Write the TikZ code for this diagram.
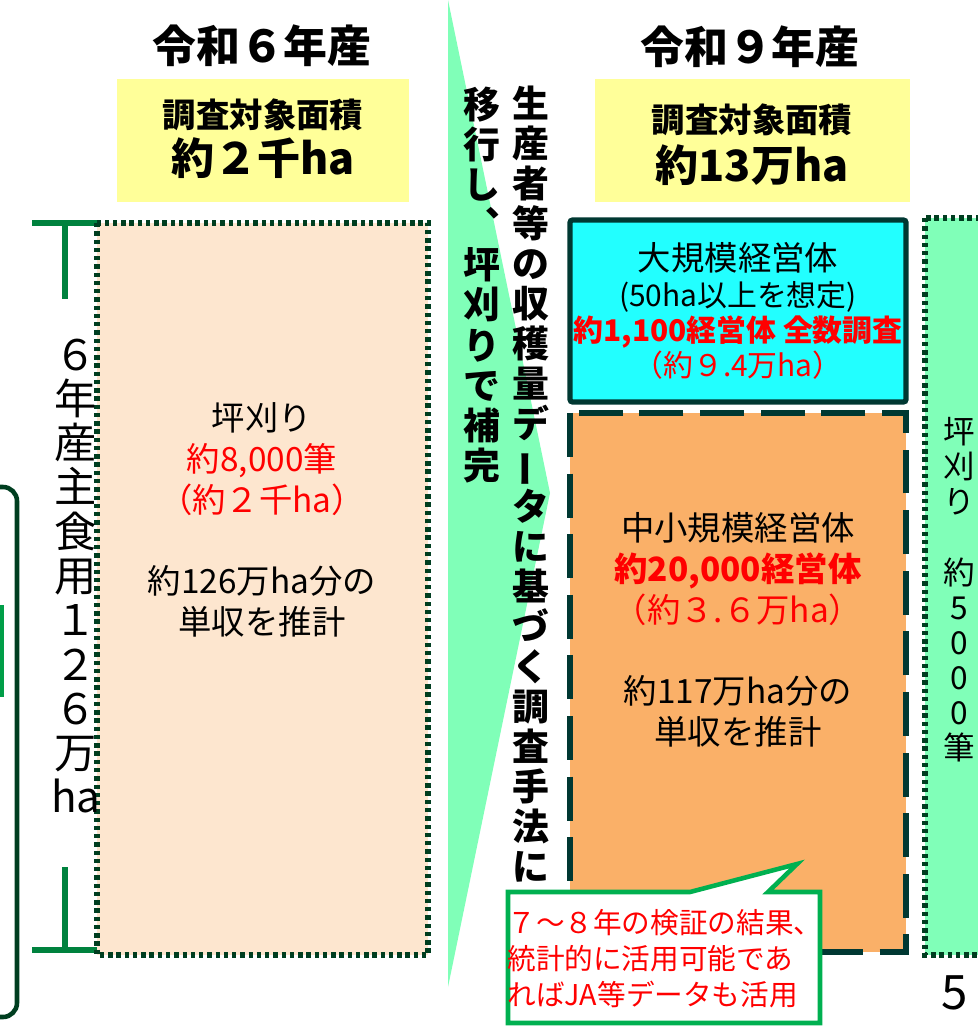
\documentclass[tikz,border=0pt]{standalone}
\usepackage{fontspec}
\setmainfont{Noto Sans CJK JP}
\usetikzlibrary{positioning}

\definecolor{paleyellow}{RGB}{255,255,153}
\definecolor{peach}{RGB}{253,230,207}
\definecolor{lightorange}{RGB}{250,176,104}
\definecolor{brightcyan}{RGB}{34,255,255}
\definecolor{mint}{RGB}{128,255,184}
\definecolor{darkgreen}{RGB}{0,62,32}
\definecolor{darkteal}{RGB}{0,56,50}
\definecolor{bargreen}{RGB}{0,130,62}
\definecolor{callgreen}{RGB}{0,176,80}

\tikzset{
  dotbox/.style={draw=darkgreen, line width=3pt, dash pattern=on 2.5pt off 2.2pt},
  dashbox/.style={draw=darkteal, line width=3pt, dash pattern=on 25pt off 9.5pt},
  title/.style={font=\fontsize{25}{28}\selectfont\bfseries},
  areahead/.style={font=\fontsize{19}{22}\selectfont\bfseries},
  areaval/.style={font=\fontsize{24.5}{27}\selectfont\bfseries},
  body/.style={align=center, font=\fontsize{19}{23.3}\selectfont},
  vertbold/.style={align=center, inner sep=0pt, font=\fontsize{21}{22.8}\selectfont\bfseries},
}

\begin{document}
\begin{tikzpicture}[x=0.02cm,y=-0.02cm]
\useasboundingbox (0,0) rectangle (977,1026);

% transition wedge
\fill[mint] (448,0) -- (550,493) -- (448,987) -- cycle;

% left bracket
\draw[darkgreen, line width=2.6pt, rounded corners=8pt] (-20,487) -- (17,487) -- (17,1017) -- (-20,1017);
\fill[callgreen!90!black] (-5,605) rectangle (4,697);

% R6
\node[title] (title6) at (262,46) {令和６年産};
\fill[paleyellow] (117,79) rectangle (409,202);
\node[areahead] (area6) at (263,115) {調査対象面積};
\node[areaval] (area6val) at (263,158) {約２千ha};

\draw[bargreen, line width=3.3pt] (32,223) -- (97,223) (65,223) -- (65,299);
\draw[bargreen, line width=3.3pt] (65,867) -- (65,950) (32,950) -- (100,950);
\path[dotbox, fill=peach] (97,223) rectangle (428,955);
\node[body] (tsubo6) at (262,520) {坪刈り\\\textcolor{red}{約8,000筆}\\\textcolor{red}{（約２千ha）}\\[23pt]約126万ha分の\\単収を推計};
\node[align=center, inner sep=0pt, font=\fontsize{24}{25.2}\selectfont] (total6) at (76,576)
  {６\\年\\産\\主\\食\\用\\１\\２\\６\\万\\ha};

% vertical note
\node[vertbold] (shift1) at (531,484) {生\\産\\者\\等\\の\\収\\穫\\量\\デ\\\rotatebox[origin=c]{90}{ー}\\タ\\に\\基\\づ\\く\\調\\査\\手\\法\\に};
\node[vertbold] (shift2) at (482,285) {移\\行\\し\\︑\\坪\\刈\\り\\で\\補\\完};

% R9
\node[title] (title9) at (750,47) {令和９年産};
\fill[paleyellow] (595,79) rectangle (910,202);
\node[areahead] (area9) at (752,120) {調査対象面積};
\node[areaval] (area9val) at (752,165) {約13万ha};

\path[draw=darkteal, line width=3pt, fill=brightcyan, rounded corners=1.5pt] (570,220) rectangle (906,402);
\node[align=center, font=\fontsize{17}{20}\selectfont] (large) at (738,311)
  {{\fontsize{19}{20}\selectfont 大規模経営体}\\(50ha以上を想定)\\\textcolor{red}{\bfseries 約1,100経営体 全数調査}\\\textcolor{red}{（約９.4万ha）}};

\path[dashbox, fill=lightorange] (570,413) rectangle (906,952);
\node[body] (small) at (738,630) {中小規模経営体\\\textcolor{red}{\bfseries 約20,000経営体}\\\textcolor{red}{（約３.６万ha）}\\[23pt]約117万ha分の\\単収を推計};

\path[dotbox, fill=mint] (925,218) rectangle (1000,955);
\node[align=center, inner sep=0pt, font=\fontsize{18}{20}\selectfont] (tsubo9) at (959,590)
  {坪\\刈\\り\\~\\約\\5\\0\\0\\0\\筆};

% callout
\draw[callgreen, line width=2.6pt, fill=white] (508,892) -- (690,892) -- (797,864) -- (768,892) -- (820,892) -- (820,1023) -- (508,1023) -- cycle;
\node[anchor=west, align=left, inner sep=0pt, text=red, font=\fontsize{16.3}{20.5}\selectfont] (check) at (507,959)
  {７～８年の検証の結果、\\統計的に活用可能であ\\ればJA等データも活用};

\node[font=\fontsize{27}{30}\selectfont] (page) at (955,993) {5};
\end{tikzpicture}
\end{document}
